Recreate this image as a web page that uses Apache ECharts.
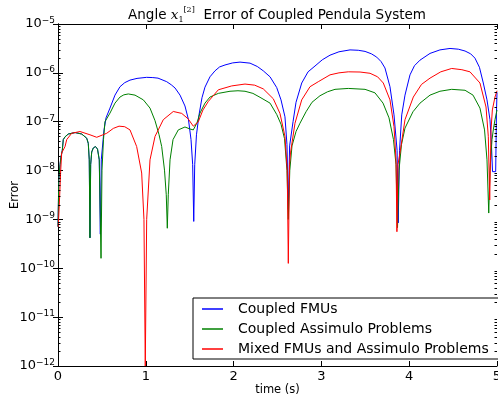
<!DOCTYPE html>
<html><head><meta charset="utf-8">
<script src="https://cdn.jsdelivr.net/npm/echarts@6/dist/echarts.min.js"></script>
<style>html,body{margin:0;padding:0;background:#fff}#c{width:498px;height:396px}</style>
</head><body><div id="c"></div>
<script>
const seriesNames = ['Coupled FMUs', 'Coupled Assimulo Problems', 'Mixed FMUs and Assimulo Problems'];
const seriesColors = ['#0000ff', '#008000', '#ff0000'];
const xTickValues = [0, 1, 2, 3, 4, 5];
const yDecades = [1e-12, 1e-11, 1e-10, 1e-9, 1e-8, 1e-7, 1e-6, 1e-5];
const minorFactors = [2, 3, 4, 5, 6, 7, 8, 9];

const coupledFMUs = [
 [0.000,7.1e-10],[0.009,6.5e-9],[0.023,1.32e-8],[0.034,1.9e-8],[0.049,2.6e-8],[0.060,4.3e-8],
 [0.080,4.9e-8],[0.117,5.6e-8],[0.194,6.0e-8],[0.270,5.6e-8],[0.327,4.6e-8],[0.345,3.6e-8],
 [0.356,1.66e-8],[0.364,4.2e-10],[0.372,1.32e-8],[0.384,2.4e-8],[0.402,2.9e-8],[0.427,3.1e-8],
 [0.450,2.75e-8],[0.470,1.66e-8],[0.482,5.0e-10],[0.493,1.66e-8],[0.524,6.8e-8],[0.547,1.2e-7],
 [0.592,1.9e-7],[0.649,3.5e-7],[0.706,5.2e-7],[0.760,6.3e-7],[0.820,7.1e-7],[0.900,7.7e-7],
 [1.010,8.1e-7],[1.080,8.0e-7],[1.139,7.8e-7],[1.238,6.6e-7],[1.290,5.7e-7],[1.333,4.9e-7],
 [1.390,3.5e-7],[1.446,2.1e-7],[1.486,1.1e-7],[1.515,4.3e-8],
 [1.534,1.32e-8],[1.546,9.1e-10],[1.557,1.32e-8],[1.577,5.4e-8],[1.606,1.38e-7],[1.640,3.1e-7],
 [1.674,5.1e-7],[1.731,8.3e-7],[1.788,1.1e-6],[1.840,1.32e-6],[1.902,1.45e-6],[1.990,1.6e-6],
 [2.073,1.66e-6],[2.187,1.58e-6],[2.270,1.35e-6],
 [2.338,1.1e-6],[2.415,8.3e-7],[2.491,5.0e-7],[2.540,2.8e-7],[2.585,1.26e-7],[2.608,3.4e-8],
 [2.623,1.6e-9],[2.638,3.2e-8],[2.677,1.0e-7],[2.711,2.5e-7],[2.776,6.2e-7],[2.848,1.05e-6],
 [2.927,1.38e-6],[3.010,1.85e-6],[3.098,2.3e-6],[3.200,2.7e-6],[3.326,2.95e-6],[3.420,2.9e-6],
 [3.497,2.75e-6],[3.570,2.45e-6],[3.630,2.1e-6],[3.680,1.7e-6],[3.724,1.26e-6],
 [3.781,5.2e-7],[3.827,1.38e-7],[3.862,2.6e-8],[3.875,8.5e-10],[3.890,2.6e-8],[3.915,1.38e-7],
 [3.952,3.5e-7],[4.009,9.1e-7],[4.060,1.4e-6],[4.123,1.82e-6],[4.237,2.5e-6],[4.350,2.95e-6],
 [4.465,3.16e-6],[4.560,3.05e-6],[4.636,2.8e-6],[4.700,2.45e-6],
 [4.749,2.0e-6],[4.800,1.3e-6],[4.844,6.2e-7],[4.886,2.8e-7],[4.920,1.1e-7],[4.937,3.4e-8],[4.949,9.5e-9],
 [4.985,9.5e-9],[4.994,1.6e-7],[5.000,4.0e-7]
];
const coupledAssimulo = [
 [0.000,7.1e-10],[0.009,6.5e-9],[0.023,1.32e-8],[0.034,1.9e-8],[0.049,2.6e-8],[0.060,4.3e-8],
 [0.080,4.9e-8],[0.117,5.6e-8],[0.194,6.0e-8],[0.270,5.6e-8],[0.327,4.6e-8],[0.345,3.6e-8],
 [0.356,1.66e-8],[0.364,4.2e-10],[0.372,1.32e-8],[0.384,2.4e-8],[0.402,2.9e-8],[0.427,3.1e-8],
 [0.450,2.75e-8],[0.470,1.66e-8],[0.490,1.6e-10],[0.501,1.02e-8],[0.518,4.3e-8],[0.535,1.0e-7],
 [0.592,1.5e-7],[0.649,2.4e-7],[0.706,3.2e-7],[0.750,3.55e-7],[0.801,3.7e-7],[0.877,3.5e-7],[0.972,2.8e-7],
 [1.048,1.9e-7],[1.105,1.05e-7],[1.150,5.5e-8],[1.181,3.1e-8],[1.213,1.02e-8],[1.233,3.2e-9],[1.245,6.6e-10],
 [1.256,3.2e-9],[1.276,1.66e-8],[1.310,4.3e-8],[1.370,6.8e-8],[1.446,7.8e-8],[1.503,7.1e-8],
 [1.541,6.8e-8],[1.583,9.5e-8],[1.617,1.5e-7],[1.674,2.4e-7],[1.731,3.2e-7],[1.826,3.8e-7],
 [1.959,4.2e-7],[2.050,4.3e-7],[2.130,4.2e-7],[2.220,3.8e-7],[2.301,3.16e-7],[2.415,2.4e-7],[2.491,1.41e-7],[2.540,8.9e-8],
 [2.580,4.5e-8],[2.608,1.0e-8],[2.623,1.0e-9],[2.640,1.0e-8],[2.665,3.2e-8],[2.711,6.3e-8],
 [2.756,9.3e-8],[2.825,1.6e-7],[2.893,2.5e-7],[2.984,3.4e-7],[3.070,4.1e-7],[3.155,4.6e-7],[3.306,4.8e-7],
 [3.497,4.6e-7],[3.610,3.9e-7],[3.702,2.4e-7],[3.770,1.2e-7],[3.821,4.3e-8],[3.850,1.32e-8],
 [3.867,6.8e-10],[3.884,1.02e-8],[3.912,3.4e-8],[3.952,7.4e-8],[4.043,1.6e-7],[4.123,2.4e-7],
 [4.237,3.5e-7],[4.350,4.2e-7],[4.484,4.6e-7],[4.636,4.4e-7],[4.727,3.5e-7],[4.806,1.9e-7],[4.858,6.8e-8],
 [4.886,1.66e-8],[4.906,1.35e-9],[4.920,1.02e-8],[4.943,4.3e-8],[4.958,6.8e-8],[4.977,1.1e-7],
 [5.000,1.74e-7]
];
const mixedProblems = [
 [0.003,7.1e-10],[0.017,2.5e-9],[0.031,1.02e-8],[0.042,2.3e-8],[0.080,3.1e-8],[0.099,4.3e-8],
 [0.156,5.8e-8],[0.251,6.3e-8],[0.364,5.4e-8],[0.441,4.8e-8],[0.555,5.8e-8],[0.630,7.3e-8],[0.695,8.1e-8],
 [0.760,7.9e-8],[0.820,6.8e-8],[0.896,3.1e-8],[0.953,8.9e-9],[0.979,1.0e-9],[0.994,1.0e-12],[1.010,1.0e-9],
 [1.048,1.66e-8],[1.105,5.0e-8],[1.199,1.1e-7],[1.313,1.62e-7],[1.409,1.48e-7],[1.481,1.15e-7],
 [1.541,8.1e-8],[1.598,1.0e-7],[1.651,1.74e-7],[1.712,2.6e-7],[1.826,4.5e-7],[1.978,5.4e-7],
 [2.130,5.9e-7],[2.240,5.6e-7],[2.338,4.7e-7],[2.452,2.95e-7],[2.528,1.48e-7],[2.585,5.0e-8],[2.611,1.02e-8],
 [2.623,1.26e-10],[2.637,1.32e-8],[2.648,2.3e-8],[2.699,9.3e-8],[2.776,2.8e-7],[2.870,5.2e-7],
 [2.965,6.6e-7],[3.098,9.1e-7],[3.200,1.0e-6],[3.306,1.05e-6],[3.440,1.04e-6],[3.554,9.8e-7],[3.640,8.3e-7],[3.705,6.2e-7],[3.781,2.8e-7],
 [3.827,7.9e-8],[3.850,1.66e-8],[3.860,5.6e-10],[3.872,1.32e-8],[3.895,2.3e-8],[3.952,1.1e-7],
 [4.047,3.2e-7],[4.140,5.8e-7],[4.237,7.8e-7],[4.360,1.05e-6],[4.484,1.23e-6],[4.600,1.16e-6],[4.692,1.05e-6],[4.806,6.2e-7],[4.875,2.0e-7],
 [4.901,5.0e-8],[4.917,2.5e-9],[4.932,6.8e-8],[4.947,1.74e-7],[4.977,3.2e-7],[5.000,4.3e-7]
];

const FONT = 'DejaVu Sans';
const minorTickData = [];
yDecades.slice(0, -1).forEach(d => minorFactors.forEach(f => minorTickData.push([0, d * f])));

function expLabel(v) {
  const e = Math.round(Math.log10(v));
  return '{b|10}{s|' + (e < 0 ? '\u2212' : '') + Math.abs(e) + '}';
}

const chart = echarts.init(document.getElementById('c'), null, {renderer: 'canvas'});
const xBase = {
  type: 'value', min: xTickValues[0], max: xTickValues[xTickValues.length - 1], interval: 1,
  axisLine: {show: true, lineStyle: {color: '#000', width: 1}},
  axisTick: {show: true, inside: true, length: 5, lineStyle: {color: '#000'}},
  splitLine: {show: false}
};
const yBase = {
  type: 'log', logBase: 10, min: yDecades[0], max: yDecades[yDecades.length - 1],
  axisLine: {show: true, lineStyle: {color: '#000', width: 1}},
  axisTick: {show: true, inside: true, length: 5, lineStyle: {color: '#000'}},
  splitLine: {show: false}, minorTick: {show: false}
};

chart.setOption({
  animation: false,
  backgroundColor: '#fff',
  textStyle: {fontFamily: FONT},
  grid: {left: 58, right: 1, top: 24, bottom: 30, containLabel: false, outerBoundsMode: 'none'},
  graphic: [{
    type: 'text', x: 277, y: 15,
    style: {
      text: '{n|Angle }{i|x}{sub|1}{sup|[2]}{n|  Error of Coupled Pendula System}',
      align: 'center', verticalAlign: 'middle', fill: '#000',
      rich: {
        n: {fontFamily: FONT, fontSize: 13.5, lineHeight: 18, fill: '#000'},
        i: {fontFamily: 'DejaVu Serif', fontStyle: 'italic', fontSize: 13.5, lineHeight: 18, fill: '#000'},
        sub: {fontFamily: 'DejaVu Serif', fontSize: 8, lineHeight: 18, verticalAlign: 'bottom', fill: '#000'},
        sup: {fontFamily: 'DejaVu Serif', fontSize: 8, lineHeight: 18, verticalAlign: 'top', fill: '#000'}
      }
    }
  }],
  xAxis: [
    Object.assign({}, xBase, {
      position: 'bottom', name: 'time (s)', nameLocation: 'middle', nameGap: 18, nameMoveOverlap: false,
      nameTextStyle: {fontFamily: FONT, fontSize: 11.5, color: '#000', verticalAlign: 'top'},
      axisLabel: {show: true, margin: 4, fontFamily: FONT, fontSize: 13, color: '#000'}
    }),
    Object.assign({}, xBase, {position: 'top', axisLabel: {show: false}})
  ],
  yAxis: [
    Object.assign({}, yBase, {
      position: 'left', name: 'Error', nameLocation: 'middle', nameGap: 37, nameRotate: 90, nameMoveOverlap: false,
      nameTextStyle: {fontFamily: FONT, fontSize: 11.5, color: '#000'},
      axisLabel: {
        show: true, margin: 3, formatter: expLabel,
        rich: {
          b: {fontFamily: FONT, fontSize: 13, lineHeight: 16, color: '#000'},
          s: {fontFamily: FONT, fontSize: 9, lineHeight: 16, verticalAlign: 'top', color: '#000'}
        }
      }
    }),
    Object.assign({}, yBase, {position: 'right', axisLabel: {show: false}})
  ],
  legend: {
    data: seriesNames, orient: 'vertical', left: 193, top: 298,
    icon: 'rect', itemWidth: 21, itemHeight: 1.5, itemGap: 4,
    padding: [3, 10, 2, 9],
    borderColor: '#000', borderWidth: 1, borderRadius: 0, backgroundColor: '#fff',
    textStyle: {fontFamily: FONT, fontSize: 14, lineHeight: 16, color: '#000', padding: [0, 0, 0, 10]},
    selectedMode: false
  },
  series: [
    {name: seriesNames[0], type: 'line', data: coupledFMUs, symbol: 'none', lineStyle: {width: 1, color: seriesColors[0]}, itemStyle: {color: seriesColors[0]}, z: 3},
    {name: seriesNames[1], type: 'line', data: coupledAssimulo, symbol: 'none', lineStyle: {width: 1, color: seriesColors[1]}, itemStyle: {color: seriesColors[1]}, z: 4},
    {name: seriesNames[2], type: 'line', data: mixedProblems, symbol: 'none', lineStyle: {width: 1, color: seriesColors[2]}, itemStyle: {color: seriesColors[2]}, z: 5},
    {
      type: 'custom', silent: true, data: minorTickData, z: 10,
      renderItem: function (params, api) {
        const v = api.value(1);
        const pl = api.coord([xTickValues[0], v]);
        const pr = api.coord([xTickValues[xTickValues.length - 1], v]);
        const y = Math.round(pl[1]) + 0.5;
        return {type: 'group', children: [
          {type: 'line', shape: {x1: pl[0], y1: y, x2: pl[0] + 2.5, y2: y}, style: {stroke: '#000', lineWidth: 1}},
          {type: 'line', shape: {x1: pr[0], y1: y, x2: pr[0] - 2.5, y2: y}, style: {stroke: '#000', lineWidth: 1}}
        ]};
      }
    }
  ]
});
</script></body></html>
